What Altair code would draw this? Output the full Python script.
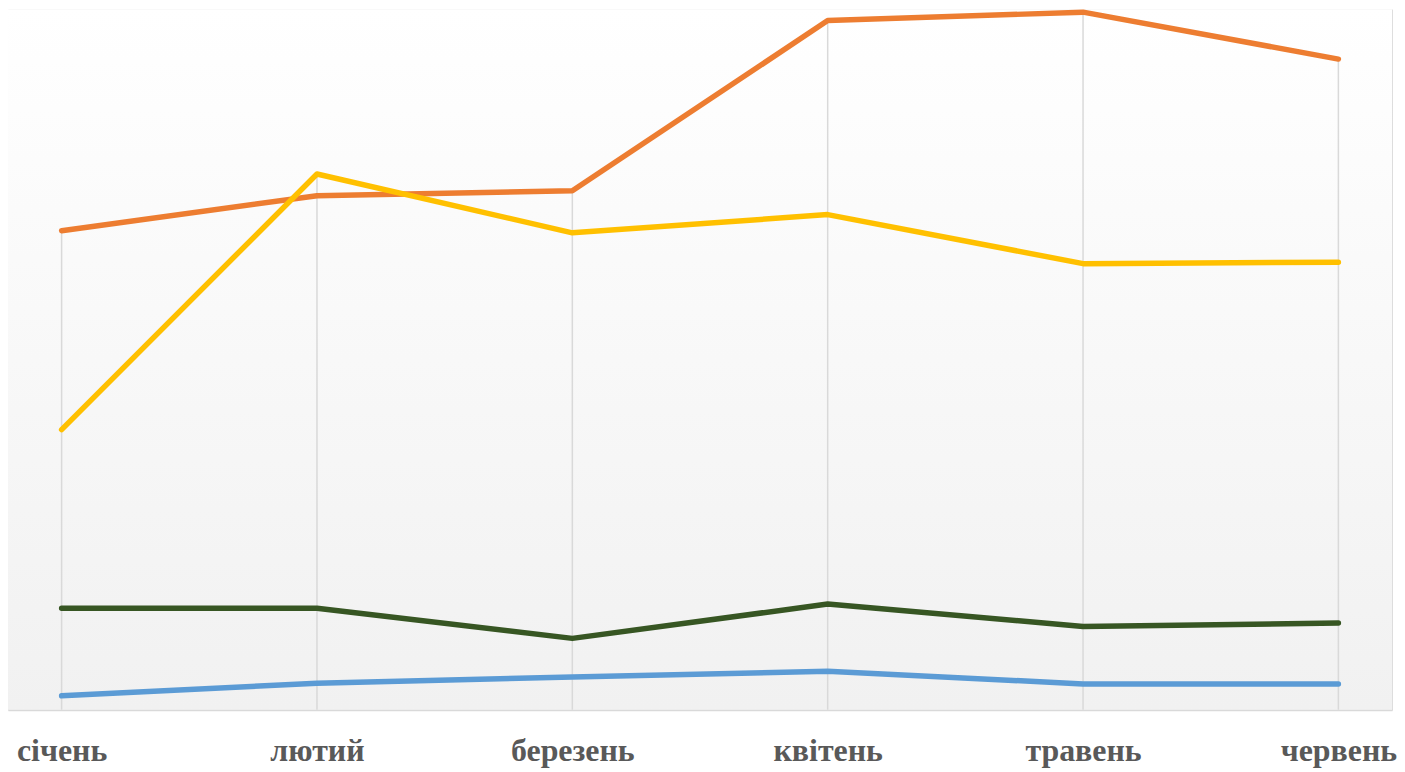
import altair as alt
import pandas as pd

months = ["січень", "лютий", "березень", "квітень", "травень", "червень"]
series = ["Ряд 1", "Ряд 2", "Ряд 3", "Ряд 4"]
colors = ["#5B9BD5", "#375623", "#ED7D31", "#FFC000"]

blue = [2.0, 3.8, 4.7, 5.5, 3.7, 3.7]
green = [14.5, 14.5, 10.2, 15.1, 11.9, 12.4]
orange = [68.4, 73.4, 74.1, 98.4, 99.6, 92.9]
yellow = [40.0, 76.5, 68.1, 70.7, 63.7, 63.9]

rows = []
for name, vals in zip(series, [blue, green, orange, yellow]):
    for m, v in zip(months, vals):
        rows.append({"month": m, "series": name, "value": v})
df = pd.DataFrame(rows)

W, H = 1389, 703

xenc = alt.X("month:N", sort=months,
             scale=alt.Scale(type="point", padding=0.21),
             axis=alt.Axis(title=None, ticks=False, grid=False,
                           domainColor="#d9d9d9", domainWidth=2,
                           labelFont="Liberation Serif", labelFontWeight="bold",
                           labelFontSize=32, labelColor="#595959",
                           labelPadding=26, labelAngle=0))
yscale = alt.Scale(domain=[0, 100], nice=False, zero=True)

bg = alt.Chart(pd.DataFrame({"a": [0]})).mark_rect(
    fill=alt.Gradient(gradient="linear",
                      stops=[alt.GradientStop(color="#ffffff", offset=0),
                             alt.GradientStop(color="#f1f1f1", offset=1)],
                      x1=0, x2=0, y1=0, y2=1)
).encode(x=alt.value(0), x2=alt.value(W), y=alt.value(0), y2=alt.value(H))

drops = alt.Chart(df).transform_aggregate(
    maxv="max(value)", groupby=["month"]
).mark_rule(color="#d9d9d9", strokeWidth=1.5).encode(
    x=xenc,
    y=alt.Y("maxv:Q", scale=yscale, axis=None),
    y2=alt.datum(0),
)

lines = alt.Chart(df).mark_line(strokeWidth=5.5, strokeCap="round", strokeJoin="round").encode(
    x=xenc,
    y=alt.Y("value:Q", scale=yscale, axis=None),
    color=alt.Color("series:N", scale=alt.Scale(domain=series, range=colors), legend=None),
    order=alt.Order("series:N"),
)

chart = alt.layer(bg, drops, lines).properties(
    width=W, height=H, padding=0
).configure_view(stroke=None).configure(background="#ffffff")

chart.save("out.html", embed_options={"renderer": "svg", "actions": False})
